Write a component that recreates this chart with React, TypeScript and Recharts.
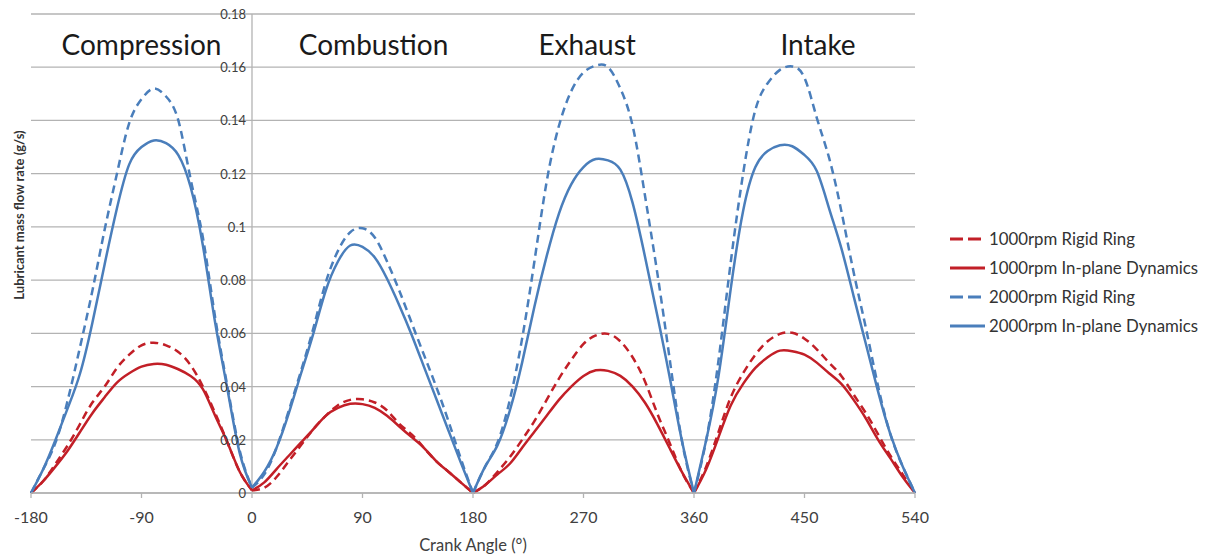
import {
  LineChart,
  Line,
  XAxis,
  YAxis,
  CartesianGrid,
  ReferenceLine,
  ReferenceDot,
  Legend,
} from "recharts";

// crank angle (deg), one point every 10 degrees
const angles = [
  -180, -170, -160, -150, -140, -130, -120, -110, -100, -90, -80, -70, -60, -50, -40, -30, -20, -10,
  0, 10, 20, 30, 40, 50, 60, 70, 80, 90, 100, 110, 120, 130, 140, 150, 160, 170,
  180, 190, 200, 210, 220, 230, 240, 250, 260, 270, 280, 290, 300, 310, 320, 330, 340, 350,
  360, 370, 380, 390, 400, 410, 420, 430, 440, 450, 460, 470, 480, 490, 500, 510, 520, 530,
  540,
];

// lubricant mass flow rate (g/s)
const rigid1000 = [
  0, 0.0045, 0.011, 0.018, 0.026, 0.034, 0.04, 0.047, 0.052, 0.0555, 0.0565, 0.0555, 0.053, 0.048, 0.04, 0.03, 0.019, 0.008,
  0.001, 0.002, 0.006, 0.012, 0.018, 0.024, 0.029, 0.033, 0.035, 0.0352, 0.034, 0.031, 0.026, 0.022, 0.017, 0.012, 0.008, 0.004,
  0, 0.003, 0.008, 0.0135, 0.02, 0.027, 0.035, 0.043, 0.05, 0.056, 0.0592, 0.0598, 0.057, 0.051, 0.042, 0.03, 0.019, 0.008,
  0, 0.01, 0.023, 0.036, 0.045, 0.052, 0.057, 0.0598, 0.0602, 0.058, 0.054, 0.049, 0.044, 0.037, 0.03, 0.022, 0.014, 0.007,
  0,
];

const inplane1000 = [
  0, 0.0045, 0.01, 0.016, 0.023, 0.03, 0.036, 0.0415, 0.045, 0.0475, 0.0485, 0.0482, 0.0465, 0.044, 0.039, 0.029, 0.019, 0.008,
  0.001, 0.004, 0.009, 0.014, 0.019, 0.024, 0.029, 0.032, 0.0335, 0.0334, 0.032, 0.029, 0.025, 0.021, 0.017, 0.012, 0.008, 0.004,
  0, 0.003, 0.007, 0.011, 0.017, 0.023, 0.029, 0.035, 0.04, 0.044, 0.0461, 0.0459, 0.044, 0.04, 0.034, 0.026, 0.017, 0.008,
  0, 0.009, 0.021, 0.033, 0.041, 0.047, 0.051, 0.0535, 0.0533, 0.052, 0.049, 0.045, 0.041, 0.035, 0.028, 0.02, 0.013, 0.006,
  0,
];

const rigid2000 = [
  0, 0.009, 0.019, 0.035, 0.055, 0.076, 0.099, 0.12, 0.139, 0.148, 0.152, 0.149, 0.14, 0.118, 0.096, 0.066, 0.04, 0.016,
  0.002, 0.007, 0.017, 0.031, 0.046, 0.062, 0.079, 0.091, 0.098, 0.0995, 0.096, 0.087, 0.076, 0.064, 0.052, 0.04, 0.027, 0.013,
  0, 0.01, 0.019, 0.035, 0.058, 0.087, 0.117, 0.138, 0.151, 0.158, 0.1606, 0.16, 0.152, 0.138, 0.112, 0.083, 0.051, 0.02,
  0, 0.02, 0.05, 0.087, 0.12, 0.144, 0.154, 0.159, 0.1603, 0.156, 0.141, 0.126, 0.106, 0.083, 0.062, 0.04, 0.022, 0.01,
  0,
];

const inplane2000 = [
  0, 0.009, 0.02, 0.032, 0.045, 0.064, 0.086, 0.107, 0.1235, 0.13, 0.1325, 0.1315, 0.127, 0.115, 0.093, 0.064, 0.039, 0.015,
  0.002, 0.008, 0.017, 0.03, 0.045, 0.06, 0.076, 0.087, 0.093, 0.0925, 0.0885, 0.0805, 0.0705, 0.0595, 0.0475, 0.0355, 0.0235, 0.0115,
  0, 0.01, 0.018, 0.031, 0.049, 0.07, 0.089, 0.105, 0.116, 0.1225, 0.1255, 0.125, 0.1215, 0.109, 0.089, 0.067, 0.044, 0.02,
  0, 0.02, 0.044, 0.077, 0.106, 0.1225, 0.1285, 0.1307, 0.1303, 0.127, 0.121, 0.107, 0.092, 0.074, 0.056, 0.038, 0.022, 0.01,
  0,
];

const xTicks = [-180, -90, 0, 90, 180, 270, 360, 450, 540];
const yTicks = [0, 0.02, 0.04, 0.06, 0.08, 0.1, 0.12, 0.14, 0.16, 0.18];

// stroke phases: start / end crank angle, label centre
const phaseNames = ["Compression", "Combustion", "Exhaust", "Intake"];
const phaseStart = [-180, 0, 180, 360];
const phaseEnd = [0, 180, 360, 540];
const phaseCentres = [-90, 99, 273, 461];
const phaseLevel = 0.1685;

const data = angles.map((angle, i) => ({
  angle,
  rigid1000: rigid1000[i],
  inplane1000: inplane1000[i],
  rigid2000: rigid2000[i],
  inplane2000: inplane2000[i],
}));

// each stroke is its own smooth hump, with a sharp V at the dead centres
const phaseData = phaseStart.map((a, i) =>
  data.filter((d) => d.angle >= a && d.angle <= phaseEnd[i])
);

const RED = "#C21F27";
const BLUE = "#4A7EBB";
const GRID = "#B3B3B3";
const FONT = 'Lato, "Open Sans", sans-serif';

const series = [
  { key: "rigid1000", name: "1000rpm Rigid Ring", color: RED, dash: "8 5", legendDash: "13 5" },
  { key: "inplane1000", name: "1000rpm In-plane Dynamics", color: RED, dash: undefined, legendDash: undefined },
  { key: "rigid2000", name: "2000rpm Rigid Ring", color: BLUE, dash: "8 5", legendDash: "13 5" },
  { key: "inplane2000", name: "2000rpm In-plane Dynamics", color: BLUE, dash: undefined, legendDash: undefined },
];

const W = 1207;
const H = 556;
const PLOT_LEFT = 31;
const PLOT_RIGHT = 915;
const ZERO_X = PLOT_LEFT + ((0 - -180) / 720) * (PLOT_RIGHT - PLOT_LEFT);

// y labels sit beside the vertical axis at crank angle 0, Excel style
function YTick(props: any) {
  const { y, payload } = props;
  return (
    <text
      x={ZERO_X - 6}
      y={y}
      textAnchor="end"
      dominantBaseline="central"
      fontSize={13}
      fill="#404040"
      fontFamily={FONT}
    >
      {payload.value}
    </text>
  );
}

function LegendBox() {
  return (
    <div style={{ fontFamily: FONT, fontSize: 16.8, color: "#333" }}>
      {series.map((s) => (
        <div key={s.key} style={{ display: "flex", alignItems: "center", height: 29 }}>
          <svg width={40} height={10} style={{ display: "block" }}>
            <line
              x1={4}
              y1={5}
              x2={39}
              y2={5}
              stroke={s.color}
              strokeWidth={3}
              strokeDasharray={s.legendDash}
            />
          </svg>
          <span style={{ marginLeft: 3, whiteSpace: "nowrap" }}>{s.name}</span>
        </div>
      ))}
    </div>
  );
}

export default function App() {
  return (
    <div style={{ position: "absolute", left: 0, top: 0, width: W, height: H, background: "#fff" }}>
      <LineChart
        width={W}
        height={H}
        margin={{ top: 14, right: W - PLOT_RIGHT, bottom: 13, left: PLOT_LEFT - 20 }}
      >
        <CartesianGrid horizontal vertical={false} stroke={GRID} strokeWidth={1.3} />
        <XAxis
          type="number"
          dataKey="angle"
          domain={[-180, 540]}
          ticks={xTicks}
          interval={0}
          height={50}
          allowDuplicatedCategory={false}
          axisLine={{ stroke: GRID, strokeWidth: 1.3 }}
          tickLine={{ stroke: GRID, strokeWidth: 1.3 }}
          tickSize={5}
          tickMargin={14}
          tick={{ fill: "#404040", fontSize: 16, fontFamily: FONT }}
          label={{
            content: (p: any) => (
              <text
                x={p.viewBox.x + p.viewBox.width / 2}
                y={p.viewBox.y + 52}
                textAnchor="middle"
                dominantBaseline="central"
                fontSize={16.5}
                fill="#404040"
                fontFamily={FONT}
              >
                Crank Angle (°)
              </text>
            ),
          }}
        />
        <YAxis
          type="number"
          domain={[0, 0.18]}
          ticks={yTicks}
          interval={0}
          width={20}
          axisLine={false}
          tickLine={false}
          tick={<YTick />}
          label={{
            content: () => (
              <text
                transform="translate(19,215) rotate(-90)"
                textAnchor="middle"
                dominantBaseline="central"
                fontSize={13}
                fontWeight={700}
                fill="#333"
                fontFamily={FONT}
              >
                Lubricant mass flow rate (g/s)
              </text>
            ),
          }}
        />
        <ReferenceLine x={0} stroke={GRID} strokeWidth={1.3} />
        {phaseNames.map((name, i) => (
          <ReferenceDot
            key={name}
            x={phaseCentres[i]}
            y={phaseLevel}
            r={0}
            fill="none"
            stroke="none"
            label={{ value: name, position: "center", fill: "#1a1a1a", fontSize: 28, fontFamily: FONT }}
          />
        ))}
        {series.map((s) =>
          phaseData.map((seg, i) => (
            <Line
              key={`${s.key}-${i}`}
              data={seg}
              type="natural"
              dataKey={s.key}
              name={s.name}
              stroke={s.color}
              strokeWidth={2.5}
              strokeDasharray={s.dash}
              dot={false}
              activeDot={false}
              legendType="none"
              isAnimationActive={false}
            />
          ))
        )}
        <Legend
          layout="vertical"
          align="center"
          verticalAlign="middle"
          content={<LegendBox />}
          wrapperStyle={{ left: 946, top: 224, width: 261 }}
        />
      </LineChart>
    </div>
  );
}
